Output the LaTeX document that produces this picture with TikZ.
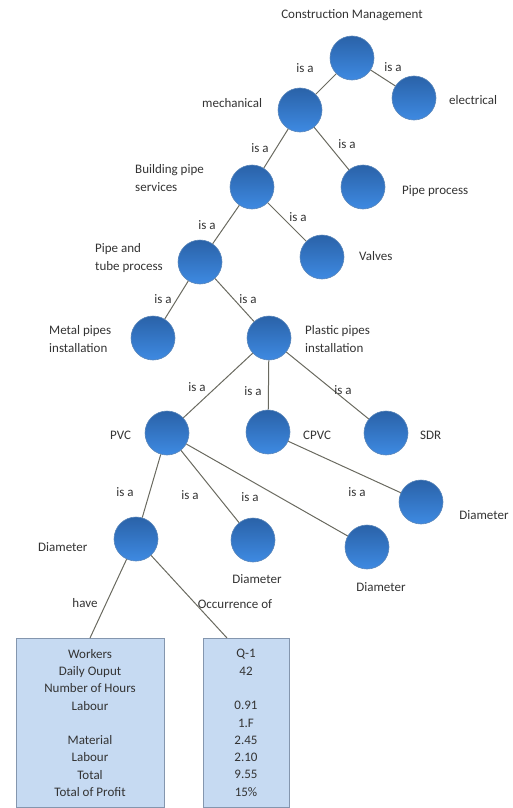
\documentclass[tikz,border=0pt]{standalone}
\usepackage{fontspec}
\setmainfont{Carlito}
\usetikzlibrary{positioning}
\definecolor{BallTop}{HTML}{2A62A8}
\definecolor{BallBot}{HTML}{3E8AE2}
\definecolor{BallRim}{HTML}{5A86BA}
\definecolor{LinkGray}{HTML}{6A6A60}
\definecolor{BoxFill}{HTML}{C6DAF2}
\definecolor{BoxRim}{HTML}{8496AE}
\definecolor{TextGray}{HTML}{333333}

\begin{document}
\begin{tikzpicture}[x=1pt, y=-1pt,
    concept/.style={circle, minimum size=44pt, inner sep=0pt, top color=BallTop, bottom color=BallBot, draw=BallRim, line width=0.6pt},
    link/.style={draw=LinkGray, line width=1pt},
    lbl/.style={text=TextGray, font=\fontsize{13}{17.5}\selectfont, inner sep=0pt, align=left},
    databox/.style={draw=BoxRim, fill=BoxFill, line width=0.8pt, anchor=north, align=center, inner sep=0pt, minimum height=169pt, text=TextGray, font=\fontsize{13}{17.3}\selectfont}]
    \useasboundingbox (0,0) rectangle (513,808);

    % Title
    \node[lbl] (title) at (352,15) {Construction Management};

    % Concepts
    \node[concept] (root) at (352,58) {};
    \node[concept] (elec) at (414,98) {};
    \node[concept] (mech) at (300,110) {};
    \node[concept] (bps) at (252,187) {};
    \node[concept] (pproc) at (363,187) {};
    \node[concept] (ptp) at (200,262) {};
    \node[concept] (valves) at (322,257) {};
    \node[concept] (metal) at (153,338) {};
    \node[concept] (plastic) at (269,338) {};
    \node[concept] (pvc) at (167,433) {};
    \node[concept] (cpvc) at (268,432) {};
    \node[concept] (sdr) at (386,433) {};
    \node[concept] (diamA) at (136,539) {};
    \node[concept] (diamB) at (253,540) {};
    \node[concept] (diamC) at (367,547) {};
    \node[concept] (diamD) at (421,502) {};

    % Concept names
    \node[lbl, anchor=west] (elecT) at (449,100) {electrical};
    \node[lbl, anchor=west] (mechT) at (202,103) {mechanical};
    \node[lbl, anchor=west] (bpsT) at (135,178) {Building pipe\\services};
    \node[lbl, anchor=west] (pprocT) at (402,191) {Pipe process};
    \node[lbl, anchor=west] (ptpT) at (95,258) {Pipe and\\tube process};
    \node[lbl, anchor=west] (valvesT) at (359,256) {Valves};
    \node[lbl, anchor=west] (metalT) at (49,339) {Metal pipes\\installation};
    \node[lbl, anchor=west] (plasticT) at (305,339) {Plastic pipes\\installation};
    \node[lbl, anchor=west] (pvcT) at (110,435) {PVC};
    \node[lbl, anchor=west] (cpvcT) at (303,435) {CPVC};
    \node[lbl, anchor=west] (sdrT) at (420,435) {SDR};
    \node[lbl, anchor=west] (diamAT) at (38,547) {Diameter};
    \node[lbl] (diamBT) at (257,579) {Diameter};
    \node[lbl] (diamCT) at (381,587) {Diameter};
    \node[lbl] (diamDT) at (484,515) {Diameter};

    % Links
    \draw[link] (root) -- (mech);
    \draw[link] (root) -- (elec);
    \draw[link] (mech) -- (bps);
    \draw[link] (mech) -- (pproc);
    \draw[link] (bps) -- (ptp);
    \draw[link] (bps) -- (valves);
    \draw[link] (ptp) -- (metal);
    \draw[link] (ptp) -- (plastic);
    \draw[link] (plastic) -- (pvc);
    \draw[link] (plastic) -- (cpvc);
    \draw[link] (plastic) -- (sdr);
    \draw[link] (cpvc) -- (diamD);
    \draw[link] (pvc) -- (diamA);
    \draw[link] (pvc) -- (diamB);
    \draw[link] (pvc) -- (diamC);

    % "is a" labels
    \foreach \n/\p in {a/{305,68}, b/{393,67}, c/{260,148}, d/{347,144}, e/{207,225},
        f/{298,217}, g/{163,299}, h/{248,299}, i/{197,387}, j/{253,391}, k/{343,390},
        l/{125,492}, m/{190,495}, n/{250,497}, o/{357,492}}
        \node[lbl] (isa\n) at (\p) {is a};

    % Data boxes
    \node[databox, minimum width=148pt] (havebox) at (90,638) {Workers\\Daily Ouput\\Number of Hours\\Labour\\[17.3pt]Material\\Labour\\Total\\Total of Profit};
    \node[databox, minimum width=86pt] (occbox) at (246,638) {Q-1\\42\\[17.3pt]0.91\\1.F\\2.45\\2.10\\9.55\\15\%};

    \draw[link] (diamA) -- (havebox.north);
    \draw[link] (diamA) -- ([xshift=-19pt]occbox.north);
    \node[lbl] (haveT) at (85,603) {have};
    \node[lbl] (occT) at (235,604) {Occurrence of};

\end{tikzpicture}
\end{document}
